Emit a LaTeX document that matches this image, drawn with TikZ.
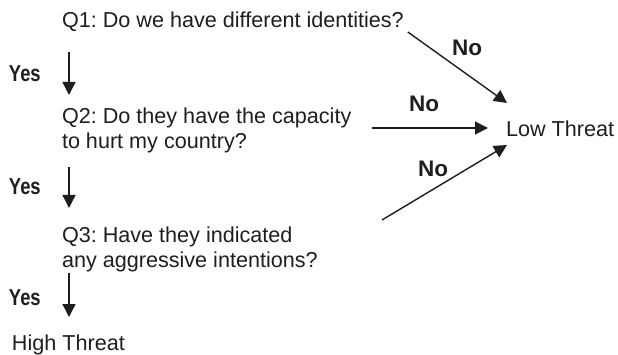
\documentclass[tikz,border=0pt]{standalone}
\usepackage{fontspec}
\usepackage{graphicx}
\setmainfont{Liberation Sans}
\usetikzlibrary{arrows.meta,calc}
\definecolor{ink}{HTML}{1E1E1E}
\frenchspacing
\begin{document}
\begin{tikzpicture}[x=1pt,y=-1pt,
  txt/.style={inner sep=0pt,outer sep=0pt,text=ink,font=\fontsize{21.6}{25}\selectfont,align=left},
  yeslbl/.style={inner sep=0pt,outer sep=0pt,text=ink,font=\fontsize{23}{25}\selectfont\bfseries},
  nolbl/.style={inner sep=0pt,outer sep=0pt,text=ink,font=\fontsize{22.5}{25}\selectfont\bfseries},
  arr/.style={draw=ink,line width=1.4pt,-{Triangle[length=13pt,width=13pt]}}]
\useasboundingbox (0,0) rectangle (618,355);
% nodes
\node[txt,anchor=base west] (q1) at (62,28) {Q1: Do we have different identities?};
\node[txt,anchor=north west] (q2) at (62,107.5) {Q2: Do they have the capacity\\to hurt my country?};
\node[txt,anchor=north west] (q3) at (62,226.5) {Q3: Have they indicated\\any aggressive intentions?};
\node[txt,anchor=base west] (high) at (12,350) {High Threat};
\node[txt,anchor=base west] (low) at (506,137) {Low Threat};
\node[yeslbl,anchor=base west] (y1) at (9,82) {\scalebox{0.8}[1]{Yes}};
\node[yeslbl,anchor=base west] (y2) at (9,195) {\scalebox{0.8}[1]{Yes}};
\node[yeslbl,anchor=base west] (y3) at (9,305) {\scalebox{0.8}[1]{Yes}};
\node[nolbl,anchor=base west] (n1) at (452,56) {No};
\node[nolbl,anchor=base west] (n2) at (409,112) {No};
\node[nolbl,anchor=base west] (n3) at (418,177) {No};
% connectors
\draw[arr] ($(q1.base west)+(7,24)$) -- ($(q2.north west)+(7,-12.5)$);
\draw[arr] ($(q2.north west)+(7,59.5)$) -- ($(q3.north west)+(7,-18.5)$);
\draw[arr] ($(q3.north west)+(7,46.5)$) -- ($(high.base west)+(57,-33)$);
\draw[arr] ($(q1.base east)+(4,4)$) -- ($(low.base west)+(1,-34)$);
\draw[arr] ($(low.base west)+(-134,-9)$) -- ($(low.base west)+(-18,-9)$);
\draw[arr] ($(low.base west)+(-124,83)$) -- ($(low.base west)+(1,8)$);
\end{tikzpicture}
\end{document}
